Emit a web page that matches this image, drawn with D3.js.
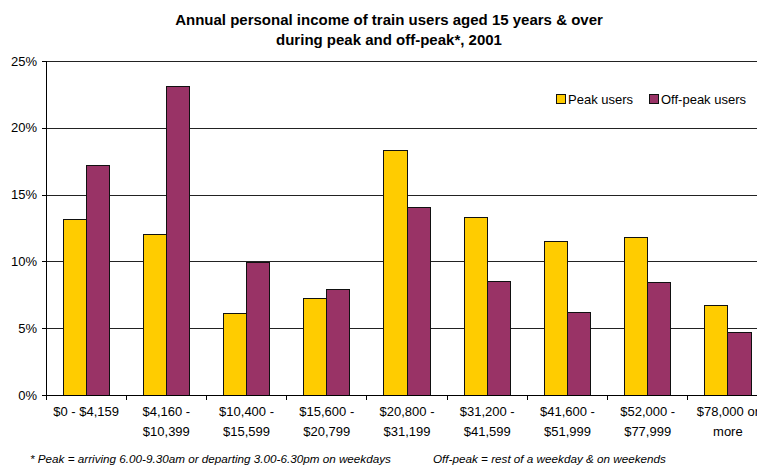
<!DOCTYPE html>
<html><head><meta charset="utf-8">
<script src="https://cdn.jsdelivr.net/npm/d3@7/dist/d3.min.js"></script>
<style>body{margin:0;background:#fff;}svg{display:block;font-family:"Liberation Sans",Arial,sans-serif;}</style>
</head><body>
<svg id="c" width="757" height="466"></svg>
<script>
const categories = [["$0 - $4,159"],["$4,160 -","$10,399"],["$10,400 -","$15,599"],["$15,600 -","$20,799"],["$20,800 -","$31,199"],["$31,200 -","$41,599"],["$41,600 -","$51,999"],["$52,000 -","$77,999"],["$78,000 or","more"]];
const seriesNames = ["Peak users","Off-peak users"];
const peak = [13.1, 12.0, 6.1, 7.2, 18.3, 13.3, 11.5, 11.8, 6.7];
const offPeak = [17.2, 23.1, 9.9, 7.9, 14.0, 8.5, 6.2, 8.4, 4.7];
const yTicks = [0, 5, 10, 15, 20, 25];
const colors = ["#FFCC00", "#993366"];
const titleLines = ["Annual personal income of train users aged 15 years & over","during peak and off-peak*, 2001"];
const footLeft = "* Peak = arriving 6.00-9.30am or departing 3.00-6.30pm on weekdays";
const footRight = "Off-peak = rest of a weekday & on weekends";

(function(){
const svg = d3.select("#c");
const pl = 46, pr = 768, pt = 61, pb = 395;
const keys = categories.map((c,i)=>i);
const x0 = d3.scaleBand().domain(keys).range([pl, pr]);
const step = x0.bandwidth();
const x1 = d3.scaleBand().domain(seriesNames).range([17, step - 17]);
const y = d3.scaleLinear().domain([0, 25]).range([pb, pt]);

// gridlines
svg.append("g").selectAll("line").data(yTicks.filter(d=>d>0)).join("line")
  .attr("x1", pl).attr("x2", 757).attr("y1", d=>Math.round(y(d))+0.5).attr("y2", d=>Math.round(y(d))+0.5)
  .attr("stroke", "#222").attr("stroke-width", 1);

// bars
const data = [peak, offPeak];
const g = svg.append("g");
keys.forEach(i => {
  seriesNames.forEach((s, j) => {
    g.append("rect")
      .attr("x", x0(i) + x1(s)).attr("width", x1.bandwidth())
      .attr("y", y(data[j][i])).attr("height", pb - y(data[j][i]))
      .attr("fill", colors[j]).attr("stroke", "#111").attr("stroke-width", 1)
      .attr("shape-rendering","crispEdges");
  });
});

// y axis
const yAxis = d3.axisLeft(y).tickValues(yTicks).tickFormat(d=>d+"%").tickSize(4).tickPadding(5);
const ya = svg.append("g").attr("transform", `translate(${pl},0)`).call(yAxis);
ya.select(".domain").attr("stroke","#000").attr("shape-rendering","crispEdges");
ya.selectAll(".tick line").attr("stroke","#000").attr("shape-rendering","crispEdges");
ya.selectAll("text").attr("font-size", 13).attr("fill","#000").attr("font-family","Liberation Sans, Arial, sans-serif");

// x axis
const xa = svg.append("g").attr("transform", `translate(0,${pb})`);
xa.append("line").attr("x1", pl).attr("x2", 757).attr("y1",0).attr("y2",0).attr("stroke","#000").attr("shape-rendering","crispEdges");
xa.selectAll("line.t").data(keys).join("line").attr("class","t")
  .attr("x1", d=>x0(d)).attr("x2", d=>x0(d)).attr("y1",0).attr("y2",5)
  .attr("stroke","#000").attr("shape-rendering","crispEdges");
xa.selectAll("text").data(keys).join("text")
  .attr("text-anchor","middle").attr("font-size",13).attr("fill","#000")
  .each(function(d){
    const t = d3.select(this);
    categories[d].forEach((ln, k) => {
      t.append("tspan").attr("x", x0(d) + step/2).attr("y", 21 + k*20).text(ln);
    });
  });

// title
svg.append("text").attr("text-anchor","middle").attr("font-weight","bold").attr("font-size",15).attr("fill","#000")
  .selectAll("tspan").data(titleLines).join("tspan").attr("x", 389).attr("y",(d,i)=>25 + i*20).text(d=>d);

// legend
const lg = svg.append("g").attr("transform","translate(556,94)");
seriesNames.forEach((s, j) => {
  const off = j === 0 ? 0 : 93;
  lg.append("rect").attr("x", off).attr("y", 0).attr("width", 9).attr("height", 9)
    .attr("fill", colors[j]).attr("stroke","#111").attr("shape-rendering","crispEdges");
  lg.append("text").attr("x", off + 12).attr("y", 9.5).attr("font-size", 13).attr("fill","#000").text(s);
});

// footnote
svg.append("text").attr("x", 30).attr("y", 463).attr("font-size", 11.7).attr("font-style","italic").attr("fill","#000").text(footLeft);
svg.append("text").attr("x", 433).attr("y", 463).attr("font-size", 11.7).attr("font-style","italic").attr("fill","#000").text(footRight);
})();
</script>
</body></html>
